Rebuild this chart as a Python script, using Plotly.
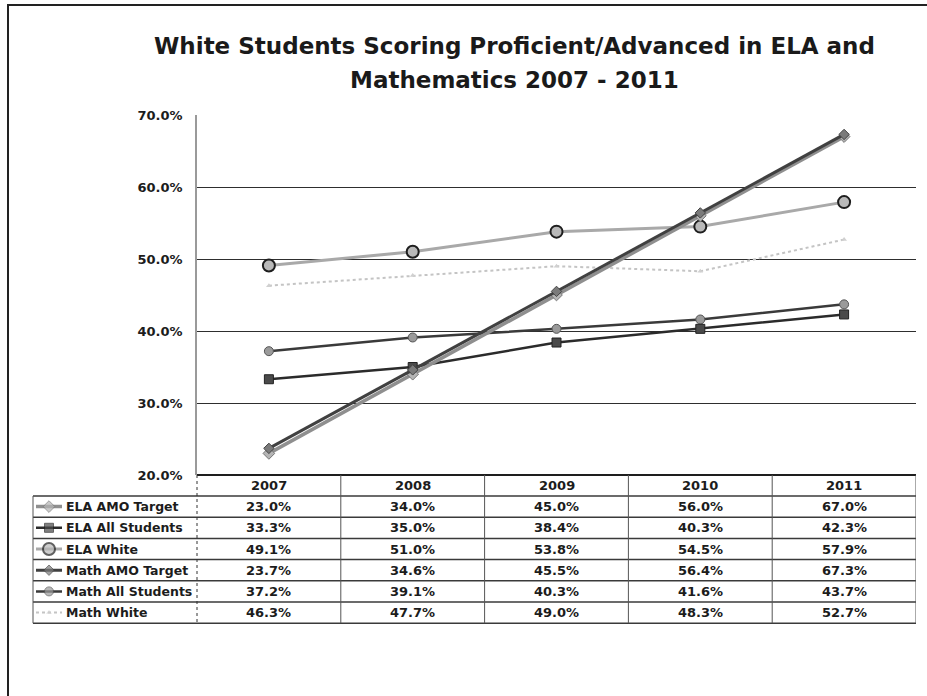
import plotly.graph_objects as go

# ---- data -------------------------------------------------------------
years = ["2007", "2008", "2009", "2010", "2011"]
series_names = [
    "ELA AMO Target",
    "ELA All Students",
    "ELA White",
    "Math AMO Target",
    "Math All Students",
    "Math White",
]
ela_amo_target = [23.0, 34.0, 45.0, 56.0, 67.0]
ela_all_students = [33.3, 35.0, 38.4, 40.3, 42.3]
ela_white = [49.1, 51.0, 53.8, 54.5, 57.9]
math_amo_target = [23.7, 34.6, 45.5, 56.4, 67.3]
math_all_students = [37.2, 39.1, 40.3, 41.6, 43.7]
math_white = [46.3, 47.7, 49.0, 48.3, 52.7]
y_ticks = [20, 30, 40, 50, 60, 70]

series_values = [ela_amo_target, ela_all_students, ela_white,
                 math_amo_target, math_all_students, math_white]

# ---- styling per series ------------------------------------------------
styles = [
    dict(line=dict(color="#8f8f8f", width=3.5),
         marker=dict(symbol="diamond", size=9, color="#b5b5b5",
                     line=dict(color="#777777", width=1))),
    dict(line=dict(color="#2b2b2b", width=2.5),
         marker=dict(symbol="square", size=9, color="#4a4a4a",
                     line=dict(color="#222222", width=1))),
    dict(line=dict(color="#a9a9a9", width=3),
         marker=dict(symbol="circle", size=12, color="#b9b9b9",
                     line=dict(color="#1e1e1e", width=2))),
    dict(line=dict(color="#404040", width=3),
         marker=dict(symbol="diamond", size=8, color="#7a7a7a",
                     line=dict(color="#444444", width=1))),
    dict(line=dict(color="#3a3a3a", width=2.5),
         marker=dict(symbol="circle", size=9, color="#9a9a9a",
                     line=dict(color="#555555", width=1))),
    dict(line=dict(color="#c4c4c4", width=2, dash="dot"),
         marker=dict(symbol="triangle-up", size=5, color="#d0d0d0",
                     line=dict(color="#c0c0c0", width=0))),
]

W, H = 927, 696


def X(p):
    return p / W


def Y(p):
    return 1 - p / H


# plot area in pixels
L, R, T, B = 197, 916, 115, 475
TABLE_LEFT = 33
HEADER_BOTTOM = 496
ROW_H = 21.2
TABLE_BOTTOM = HEADER_BOTTOM + ROW_H * len(series_names)

FONT = "DejaVu Sans"
TEXT_COLOR = "#1c1c1c"

fig = go.Figure()

# draw order: faint lines first, AMO targets on top
draw_order = [5, 2, 4, 1, 0, 3]
for i in draw_order:
    fig.add_trace(go.Scatter(
        x=years, y=series_values[i], mode="lines+markers",
        name=series_names[i], showlegend=False,
        line=styles[i]["line"], marker=styles[i]["marker"],
        xaxis="x", yaxis="y",
    ))

# legend keys inside the table's label column
for i, name in enumerate(series_names):
    st = styles[i]
    mk = dict(st["marker"])
    mk["size"] = [0, mk["size"], 0]
    fig.add_trace(go.Scatter(
        x=[3, 16, 29], y=[i + 0.5] * 3, mode="lines+markers",
        showlegend=False, hoverinfo="skip",
        line=st["line"], marker=mk,
        xaxis="x2", yaxis="y2",
    ))

shapes = []
annotations = []

# page frame (left and top edges)
shapes.append(dict(type="line", xref="paper", yref="paper",
                   x0=X(8), x1=X(8), y0=Y(4), y1=0,
                   line=dict(color="#222222", width=2)))
shapes.append(dict(type="line", xref="paper", yref="paper",
                   x0=X(8), x1=1, y0=Y(5), y1=Y(5),
                   line=dict(color="#222222", width=2)))

# table: horizontal rules
shapes.append(dict(type="line", xref="paper", yref="paper",
                   x0=X(L), x1=X(R), y0=Y(B), y1=Y(B),
                   line=dict(color="#1e1e1e", width=2)))
for r in range(len(series_names) + 1):
    yy = HEADER_BOTTOM + r * ROW_H
    shapes.append(dict(type="line", xref="paper", yref="paper",
                       x0=X(TABLE_LEFT), x1=X(R), y0=Y(yy), y1=Y(yy),
                       line=dict(color="#3a3a3a", width=1.5)))

# table: vertical rules
shapes.append(dict(type="line", xref="paper", yref="paper",
                   x0=X(TABLE_LEFT), x1=X(TABLE_LEFT),
                   y0=Y(HEADER_BOTTOM), y1=Y(TABLE_BOTTOM),
                   line=dict(color="#555555", width=1)))
shapes.append(dict(type="line", xref="paper", yref="paper",
                   x0=X(L), x1=X(L), y0=Y(B), y1=Y(TABLE_BOTTOM),
                   line=dict(color="#333333", width=1, dash="dot")))
for k in range(1, len(years) + 1):
    shapes.append(dict(type="line", xref="x", yref="paper",
                       x0=k - 0.5, x1=k - 0.5, y0=Y(B), y1=Y(TABLE_BOTTOM),
                       line=dict(color="#555555", width=1)))

# table: year header
for k, yr in enumerate(years):
    annotations.append(dict(
        x=k, y=Y((B + HEADER_BOTTOM) / 2), xref="x", yref="paper",
        text=yr, showarrow=False, yanchor="middle",
        font=dict(family=FONT, size=13, color=TEXT_COLOR, weight="bold"),
    ))

# table: row labels and values
for i, name in enumerate(series_names):
    yc = Y(HEADER_BOTTOM + (i + 0.5) * ROW_H)
    annotations.append(dict(
        x=X(64), y=yc, xref="paper", yref="paper", xanchor="left",
        yanchor="middle", text=name, showarrow=False,
        font=dict(family=FONT, size=12.5, color=TEXT_COLOR, weight="bold"),
    ))
    for k, v in enumerate(series_values[i]):
        annotations.append(dict(
            x=k, y=yc, xref="x", yref="paper", yanchor="middle",
            text=f"{v:.1f}%", showarrow=False,
            font=dict(family=FONT, size=13, color=TEXT_COLOR, weight="bold"),
        ))

# title
annotations.append(dict(
    x=X(514), y=Y(46), xref="paper", yref="paper", yanchor="middle",
    text="White Students Scoring Proficient/Advanced in ELA and",
    showarrow=False,
    font=dict(family=FONT, size=23, color="#1a1a1a", weight="bold"),
))
annotations.append(dict(
    x=X(514), y=Y(80), xref="paper", yref="paper", yanchor="middle",
    text="Mathematics 2007 - 2011",
    showarrow=False,
    font=dict(family=FONT, size=23, color="#1a1a1a", weight="bold"),
))

fig.update_layout(
    width=W, height=H,
    margin=dict(l=0, r=0, t=0, b=0, pad=0, autoexpand=False),
    paper_bgcolor="white", plot_bgcolor="white",
    xaxis=dict(
        domain=[X(L), X(R)], range=[-0.5, 4.5], type="category",
        showticklabels=False, showgrid=False, zeroline=False,
        showline=False, fixedrange=True,
    ),
    yaxis=dict(
        domain=[Y(B), Y(T)], range=[20, 70], tickvals=y_ticks,
        ticktext=[f"{t:.1f}%" for t in y_ticks],
        showgrid=True, gridcolor="#2e2e2e", gridwidth=1,
        zeroline=False, showline=True, linecolor="#9a9a9a", linewidth=1.5,
        ticks="", ticklabelstandoff=10,
        tickfont=dict(family=FONT, size=13, color=TEXT_COLOR, weight="bold"),
    ),
    xaxis2=dict(
        domain=[X(TABLE_LEFT), X(L)], range=[0, L - TABLE_LEFT],
        visible=False, fixedrange=True, anchor="y2",
    ),
    yaxis2=dict(
        domain=[Y(TABLE_BOTTOM), Y(HEADER_BOTTOM)],
        range=[len(series_names), 0], visible=False, fixedrange=True,
        anchor="x2",
    ),
    shapes=shapes,
    annotations=annotations,
)

fig.write_html("out.html")
